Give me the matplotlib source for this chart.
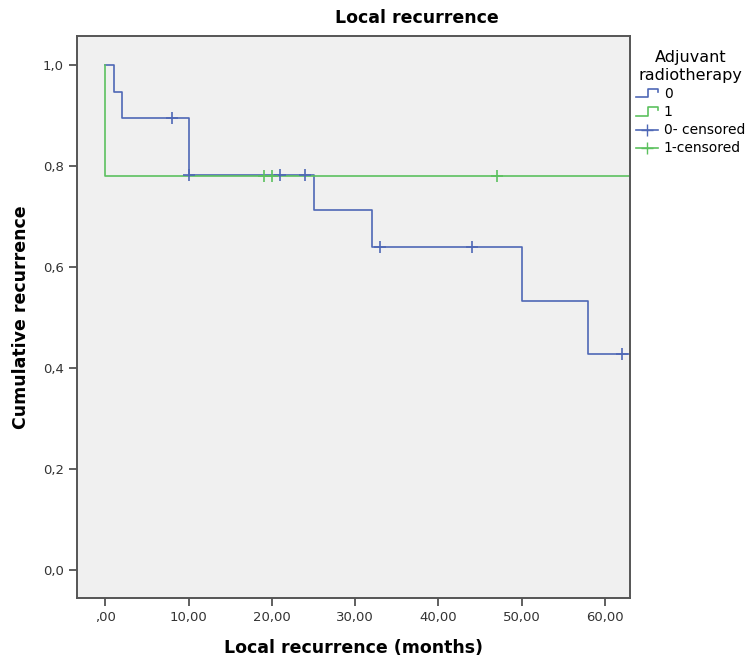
import numpy as np
import matplotlib
matplotlib.use("Agg")
import matplotlib.pyplot as plt
from matplotlib.lines import Line2D
from matplotlib.legend_handler import HandlerBase
from matplotlib.ticker import FuncFormatter

# group 0 (no adjuvant radiotherapy): step times and levels
times_0 = [0, 1, 2, 10, 25, 32, 50, 58, 64]
levels_0 = [1.0, 0.947, 0.895, 0.782, 0.712, 0.640, 0.533, 0.427, 0.427]
cens_t_0 = [8, 10, 21, 24, 33, 44, 62]
cens_y_0 = [0.895, 0.782, 0.782, 0.782, 0.640, 0.640, 0.427]

# group 1 (adjuvant radiotherapy)
times_1 = [0, 0, 64]
levels_1 = [1.0, 0.779, 0.779]
cens_t_1 = [19, 20, 47]
cens_y_1 = [0.779, 0.779, 0.779]

x_ticks = [0, 10, 20, 30, 40, 50, 60]
y_ticks = [0.0, 0.2, 0.4, 0.6, 0.8, 1.0]

BLUE = "#4f68b6"
GREEN = "#5cc15f"


class StepHandler(HandlerBase):
    """legend glyph drawn as a small step, like SPSS"""
    def create_artists(self, legend, orig_handle, xdescent, ydescent,
                       width, height, fontsize, trans):
        x0, x1 = -xdescent, -xdescent + width
        y0, y1 = -ydescent, -ydescent + height
        xm = x0 + width * 0.55
        xs = [x0, xm, xm, x1, x1]
        ys = [y0, y0, y1, y1, y1 - height * 0.4]
        ln = Line2D(xs, ys, color=orig_handle.get_color(), lw=1.2)
        ln.set_transform(trans)
        return [ln]


fig = plt.figure(figsize=(7.49, 6.62), dpi=100)
ax = fig.add_axes([0.1028, 0.0967, 0.7383, 0.849])
ax.set_facecolor("#f0f0f0")

ax.step(times_0, levels_0, where="post", color=BLUE, lw=1.2)
ax.step(times_1, levels_1, where="post", color=GREEN, lw=1.2)
ax.plot(cens_t_0, cens_y_0, ls="none", marker="+", ms=8, mew=1.2, color=BLUE)
ax.plot(cens_t_1, cens_y_1, ls="none", marker="+", ms=8, mew=1.2, color=GREEN)

ax.set_xlim(-3.4, 63.0)
ax.set_ylim(-0.055, 1.057)
ax.set_xticks(x_ticks)
ax.set_yticks(y_ticks)


def xfmt(v, pos):
    s = f"{v:.2f}".replace(".", ",")
    return s[1:] if s.startswith("0") else s


ax.xaxis.set_major_formatter(FuncFormatter(xfmt))
ax.yaxis.set_major_formatter(FuncFormatter(lambda v, p: f"{v:.1f}".replace(".", ",")))
ax.tick_params(direction="out", length=6, width=1.2, color="#444444",
               labelcolor="#333333", labelsize=9.5)

for sp in ax.spines.values():
    sp.set_color("#555555")
    sp.set_linewidth(1.4)

ax.set_xlabel("Local recurrence (months)", fontsize=12.5, fontweight="bold", labelpad=11)
ax.set_ylabel("Cumulative recurrence", fontsize=12.5, fontweight="bold", labelpad=9)
fig.text(0.557, 1 - 18 / 662, "Local recurrence", ha="center", va="center",
         fontsize=12.5, fontweight="bold")

h0 = Line2D([], [], color=BLUE)
h1 = Line2D([], [], color=GREEN)
h0c = Line2D([], [], color=BLUE, marker="+", ms=8, lw=1.2)
h1c = Line2D([], [], color=GREEN, marker="+", ms=8, lw=1.2)
leg = fig.legend([h0, h1, h0c, h1c], ["0", "1", "0- censored", "1-censored"],
                 title="Adjuvant\nradiotherapy", loc="upper left",
                 bbox_to_anchor=(0.849, 0.924), frameon=False,
                 fontsize=10, title_fontsize=11.5,
                 handler_map={h0: StepHandler(), h1: StepHandler()},
                 handlelength=1.6, handleheight=0.6, handletextpad=0.4,
                 labelspacing=0.3, borderpad=0.0, borderaxespad=0.0)
leg.get_title().set_multialignment("center")

fig.savefig("out.png", dpi=100)
